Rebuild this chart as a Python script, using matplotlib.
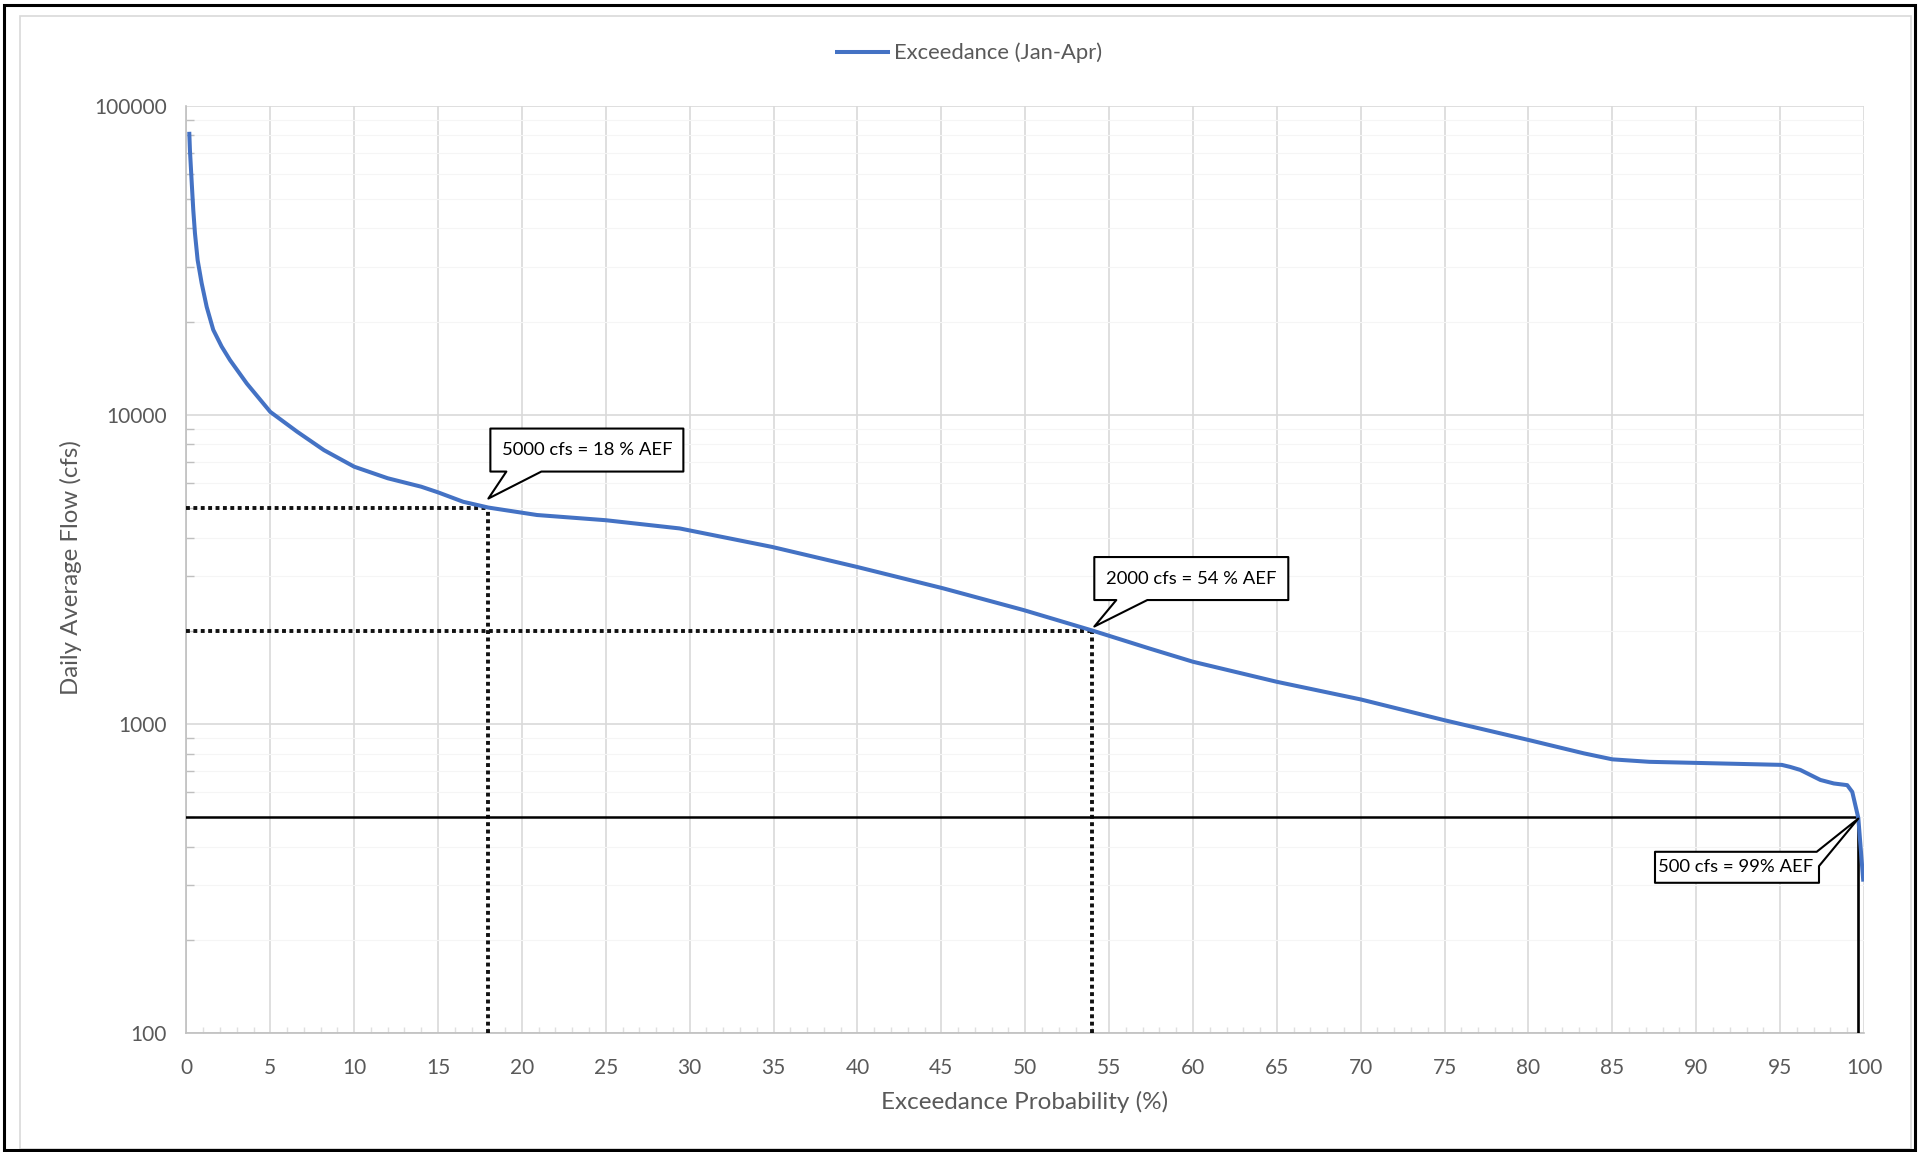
import matplotlib
matplotlib.use("Agg")
import matplotlib.pyplot as plt
from matplotlib.patches import Polygon, Rectangle
from matplotlib import transforms
from matplotlib.ticker import FixedLocator, FixedFormatter, LogLocator, NullFormatter, MultipleLocator

plt.rcParams['font.family'] = ['Lato', 'DejaVu Sans']

# ---------------- data ----------------
exceed_pct = [0.17, 0.21, 0.32, 0.41, 0.51, 0.67, 0.91, 1.21, 1.6, 2.1, 2.6, 3.6, 5.0, 6.6, 8.2,
              10.0, 12.0, 14.0, 15.0, 16.5, 18.0, 20.9, 25.0, 29.4, 34.9, 40.0, 45.1, 49.9, 54.0,
              57.4, 60.0, 65.0, 70.0, 75.0, 80.0, 83.3, 85.0, 87.2, 90.0, 95.1, 95.6, 96.2, 97.4,
              98.2, 99.0, 99.3, 99.66, 99.96]
flow_cfs = [82200, 71800, 55900, 45900, 38600, 31600, 26600, 22300, 18800, 16600, 15000, 12600,
            10200, 8800, 7670, 6780, 6220, 5840, 5600, 5220, 5000, 4730, 4550, 4280, 3730, 3210,
            2740, 2330, 2000, 1750, 1585, 1365, 1197, 1025, 885, 801, 766, 752, 746, 735, 724,
            708, 657, 640, 632, 601, 495, 308]

series_label = "Exceedance (Jan-Apr)"
x_ticks = list(range(0, 101, 5))
y_ticks = [100, 1000, 10000, 100000]
y_tick_labels = ["100", "1000", "10000", "100000"]

# reference markers (flow, exceedance %)
dotted_flows = [5000, 2000]
dotted_pcts = [18, 54]
solid_flow = 500
solid_pct = 99.66
callout_texts = ["5000 cfs = 18 % AEF", "2000 cfs = 54 % AEF", "500 cfs = 99% AEF"]

# ---------------- figure ----------------
W, H = 1923, 1152
fig = plt.figure(figsize=(W / 100, H / 100), dpi=100)
fig.patch.set_facecolor('white')

# outer frame
fig.patches.append(Rectangle((20 / W, 1 - 1149 / H), (1911 - 20) / W, (1149 - 16) / H,
                             transform=fig.transFigure, fill=False, ec='#d9d9d9', lw=1.2))
fig.patches.append(Rectangle((4 / W, 1 - 1150 / H), (1915 - 4) / W, (1150 - 5) / H,
                             transform=fig.transFigure, fill=False, ec='black', lw=2.2))

left, right = 186.4, 1864.0
top, bottom = 105.5, 1032.6
ax = fig.add_axes([left / W, 1 - bottom / H, (right - left) / W, (bottom - top) / H])

ax.set_xlim(0, 100)
ax.set_yscale('log')
ax.set_ylim(100, 100000)

grid_c = '#d9d9d9'
lab_c = '#595959'

ax.xaxis.set_major_locator(FixedLocator(x_ticks))
ax.xaxis.set_minor_locator(MultipleLocator(1))
ax.yaxis.set_major_locator(FixedLocator(y_ticks))
ax.yaxis.set_major_formatter(FixedFormatter(y_tick_labels))
ax.yaxis.set_minor_locator(LogLocator(base=10, subs=range(2, 10)))
ax.yaxis.set_minor_formatter(NullFormatter())

ax.grid(True, which='major', axis='both', color=grid_c, lw=1.2)
ax.grid(True, which='minor', axis='y', color='#f5f5f5', lw=0.8)
ax.set_axisbelow(True)

for s in ['top', 'right']:
    ax.spines[s].set_visible(False)
for s in ['left', 'bottom']:
    ax.spines[s].set_color('#bfbfbf')
    ax.spines[s].set_linewidth(1.2)

ax.tick_params(axis='both', which='major', length=0, labelsize=15, labelcolor=lab_c)
ax.tick_params(axis='x', which='major', pad=18)
ax.tick_params(axis='y', which='major', pad=14)
ax.tick_params(axis='y', which='minor', direction='in', length=6, color='#bfbfbf', width=1)
ax.tick_params(axis='x', which='minor', direction='in', length=4, color='#e0e0e0', width=1)

# reference lines
for f, p in zip(dotted_flows, dotted_pcts):
    ax.plot([0, p], [f, f], color='#111111', lw=2.8, ls=(0, (1, 0.9)), dash_capstyle='butt', zorder=3)
    ax.plot([p, p], [100, f], color='#111111', lw=2.8, ls=(0, (1, 0.9)), dash_capstyle='butt', zorder=3)
ax.plot([0, solid_pct], [solid_flow, solid_flow], color='black', lw=1.8, zorder=3)
ax.plot([solid_pct, solid_pct], [100, solid_flow], color='black', lw=1.9, zorder=3)

# main curve
ax.plot(exceed_pct, flow_cfs, color='#4472C4', lw=2.9, solid_joinstyle='round',
        solid_capstyle='butt', zorder=4, label=series_label)

# callouts (shapes in pixel offsets from the anchor point)
callout_shapes = [
    [(0, 9), (18, 36), (2, 36), (2, 79), (195, 79), (195, 36), (53, 36)],
    [(2, 4), (24, 30.5), (2, 30.5), (2, 73.5), (196, 73.5), (196, 30.5), (55, 30.5)],
    [(0, -2), (-39.3, -49.5), (-39.3, -66.2), (-203.3, -66.2), (-203.3, -35.2), (-41.6, -35.2)],
]
text_offsets = [(99, 57.5), (98.7, 52), (-122.5, -50.5)]
anchors = list(zip(dotted_pcts, dotted_flows)) + [(solid_pct, solid_flow)]

for (px, fy), shape, txt, off in zip(anchors, callout_shapes, callout_texts, text_offsets):
    tr = transforms.Affine2D() + transforms.ScaledTranslation(px, fy, ax.transData)
    poly = Polygon(shape, closed=True, transform=tr, fc='white', ec='black', lw=1.5,
                   joinstyle='round', zorder=6, clip_on=False)
    ax.add_patch(poly)
    ax.annotate(txt, xy=(px, fy), xytext=off, textcoords='offset pixels',
                ha='center', va='center', fontsize=13.3, color='black', zorder=7)

# axis titles
fig.text(1025 / W, 1 - 1102 / H, "Exceedance Probability (%)", ha='center', va='center',
         fontsize=17.5, color=lab_c)
fig.text(71 / W, 1 - 568 / H, "Daily Average Flow (cfs)", ha='center', va='center',
         rotation=90, fontsize=17.3, color=lab_c)

# legend
ax.legend(loc='center', bbox_to_anchor=(968.5 / W, 1 - 53 / H), bbox_transform=fig.transFigure,
          frameon=False, fontsize=15.8, handlelength=2.5, handletextpad=0.2, labelcolor=lab_c,
          borderpad=0, borderaxespad=0)

fig.savefig("out.png", dpi=100, facecolor='white')
